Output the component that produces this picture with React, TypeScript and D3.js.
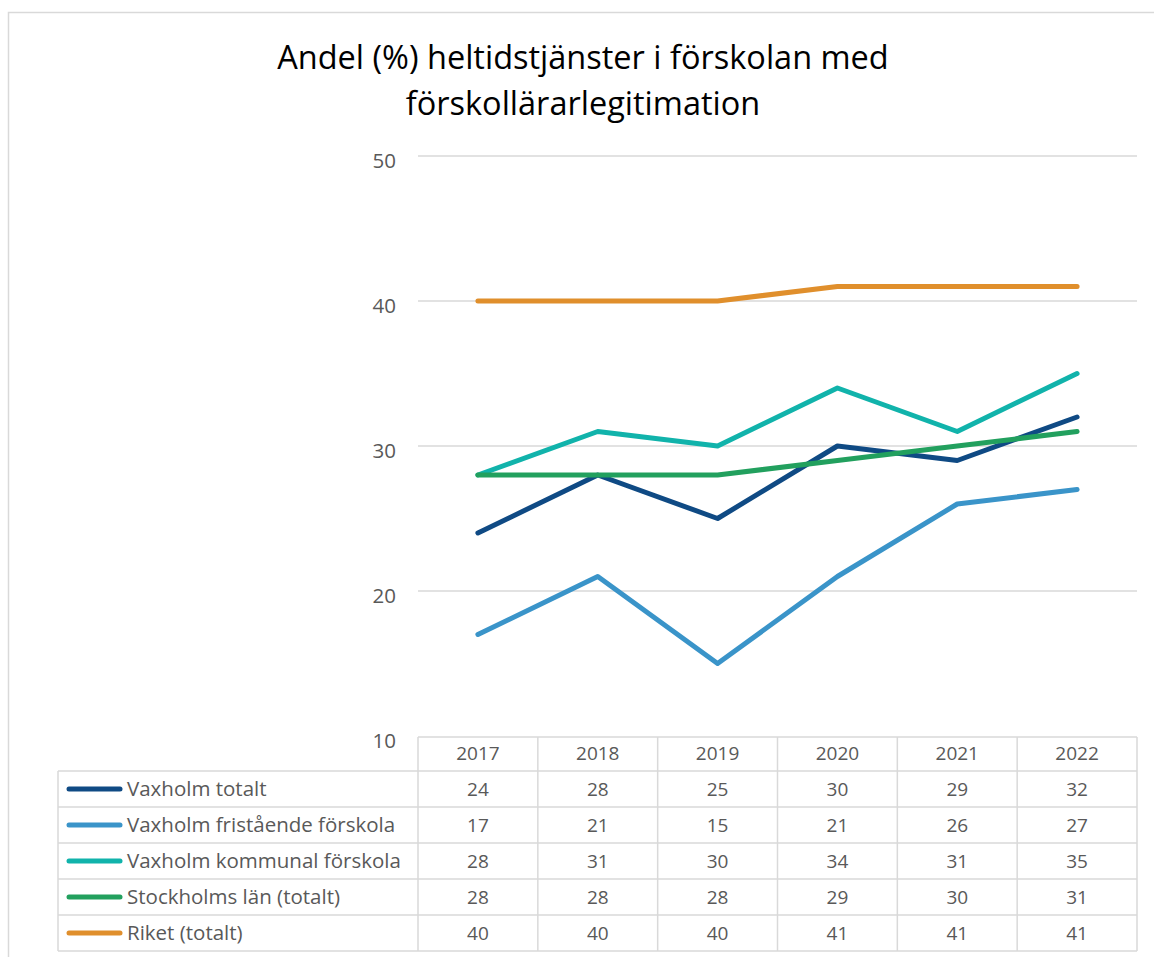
import React from "react";
import * as d3 from "d3";

const years = ["2017", "2018", "2019", "2020", "2021", "2022"];
const seriesNames = [
  "Vaxholm totalt",
  "Vaxholm fristående förskola",
  "Vaxholm kommunal förskola",
  "Stockholms län (totalt)",
  "Riket (totalt)",
];
const vaxholmTotalt = [24, 28, 25, 30, 29, 32];
const vaxholmFristaende = [17, 21, 15, 21, 26, 27];
const vaxholmKommunal = [28, 31, 30, 34, 31, 35];
const stockholmsLan = [28, 28, 28, 29, 30, 31];
const riket = [40, 40, 40, 41, 41, 41];
const seriesColors = ["#0f4a84", "#3a94c9", "#11b3ab", "#22a05e", "#e08f2c"];
const yTicks = [10, 20, 30, 40, 50];
const titleLines = ["Andel (%) heltidstjänster i förskolan med", "förskollärarlegitimation"];

export default function App() {
  const W = 1154, H = 957;
  const left = 418, right = 1137, top = 156, bottom = 736;
  const x = d3.scaleBand<string>().domain(years).range([left, right]);
  const y = d3.scaleLinear().domain([10, 50]).range([bottom, top]);
  const allSeries = [vaxholmTotalt, vaxholmFristaende, vaxholmKommunal, stockholmsLan, riket];
  const line = d3
    .line<number>()
    .x((_, i) => (x(years[i]) as number) + x.bandwidth() / 2)
    .y((d) => y(d));

  const tableLeft = 58;
  const headerTop = 737;
  const headerBottom = 771;
  const rowH = 36;
  const grid = "#d9d9d9";
  const textCol = "#595959";
  const numFont = "'Liberation Sans Narrow', 'Open Sans', sans-serif";
  const tableBottom = headerBottom + rowH * seriesNames.length;

  return (
    <svg
      width={W}
      height={H}
      style={{ position: "absolute", left: 0, top: 0, display: "block", background: "#fff" }}
      fontFamily="'Open Sans', sans-serif"
    >
      <rect x={8.5} y={12.5} width={W + 10} height={H + 10} fill="#fff" stroke={grid} strokeWidth={1.5} />
      {titleLines.map((t, i) => (
        <text key={i} x={583} y={69 + i * 46} textAnchor="middle" fontSize={32.5} fill="#000">
          {t}
        </text>
      ))}
      {yTicks.map((t) => (
        <g key={t}>
          {t !== 10 && (
            <line x1={left} x2={right} y1={y(t)} y2={y(t)} stroke={grid} strokeWidth={1.5} />
          )}
          <text x={396} y={y(t) + 12} textAnchor="end" fontSize={20.5} fill={textCol}>
            {t}
          </text>
        </g>
      ))}
      {/* table grid */}
      <line x1={left} x2={right} y1={headerTop} y2={headerTop} stroke={grid} strokeWidth={1.5} />
      {seriesNames.map((_, i) => (
        <line
          key={"h" + i}
          x1={tableLeft}
          x2={right}
          y1={headerBottom + i * rowH}
          y2={headerBottom + i * rowH}
          stroke={grid}
          strokeWidth={1.5}
        />
      ))}
      <line x1={tableLeft} x2={right} y1={tableBottom} y2={tableBottom} stroke={grid} strokeWidth={1.5} />
      <line x1={tableLeft} x2={tableLeft} y1={headerBottom} y2={tableBottom} stroke={grid} strokeWidth={1.5} />
      {years.map((yr, i) => (
        <line
          key={"v" + i}
          x1={x(yr)}
          x2={x(yr)}
          y1={headerTop}
          y2={tableBottom}
          stroke={grid}
          strokeWidth={1.5}
        />
      ))}
      <line x1={right} x2={right} y1={headerTop} y2={tableBottom} stroke={grid} strokeWidth={1.5} />
      {years.map((yr) => (
        <text
          key={"yr" + yr}
          x={(x(yr) as number) + x.bandwidth() / 2}
          y={headerTop + 23}
          textAnchor="middle"
          fontSize={19}
          fill={textCol}
          fontFamily={numFont}
        >
          {yr}
        </text>
      ))}
      {seriesNames.map((name, si) => {
        const cy = headerBottom + si * rowH + rowH / 2;
        return (
          <g key={name}>
            <line x1={69} x2={120} y1={cy} y2={cy} stroke={seriesColors[si]} strokeWidth={5} strokeLinecap="round" />
            <text x={127} y={cy + 7} fontSize={20.5} fill={textCol}>
              {name}
            </text>
            {allSeries[si].map((v, i) => (
              <text
                key={i}
                x={(x(years[i]) as number) + x.bandwidth() / 2}
                y={cy + 7}
                textAnchor="middle"
                fontSize={19}
                fill={textCol}
                fontFamily={numFont}
              >
                {v}
              </text>
            ))}
          </g>
        );
      })}
      {allSeries.map((s, si) => (
        <path
          key={"l" + si}
          d={line(s) as string}
          fill="none"
          stroke={seriesColors[si]}
          strokeWidth={5}
          strokeLinecap="round"
          strokeLinejoin="round"
        />
      ))}
    </svg>
  );
}
